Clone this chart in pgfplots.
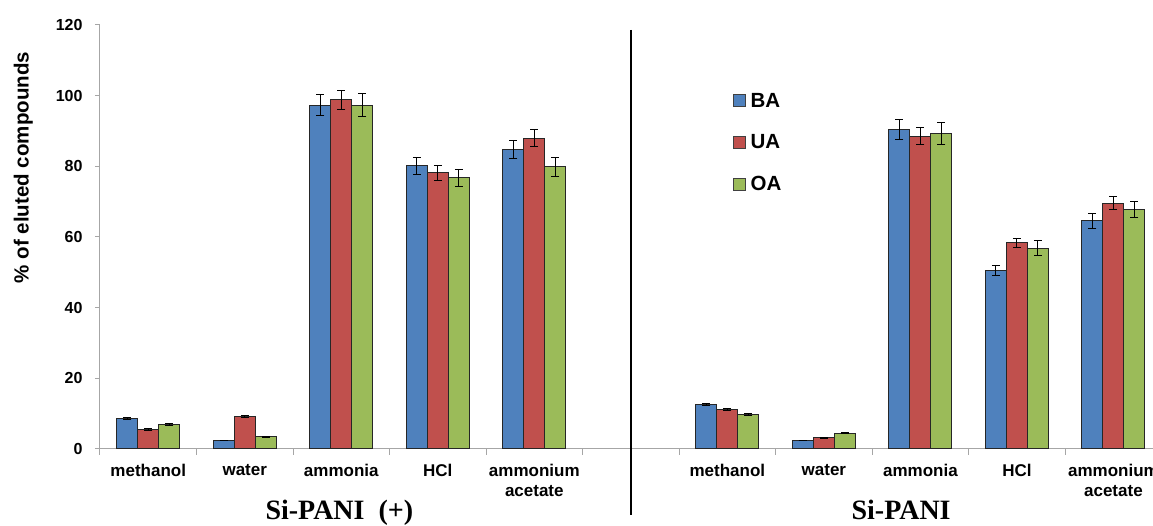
\documentclass[border=0pt]{standalone}
\usepackage{pgfplots}
\pgfplotsset{compat=1.18}
\usepackage{pgfplotstable}
\usepackage{fontspec}
\setmainfont{Liberation Sans}
\newfontfamily\timesfont{Liberation Serif}
\definecolor{cBA}{HTML}{4F81BD}
\definecolor{cUA}{HTML}{C0504D}
\definecolor{cOA}{HTML}{9BBB59}
\definecolor{axgray}{HTML}{A6A6A6}

\pgfplotstableread{
x y e
0 8.7 0.3
1 2.3 0.0
2 97.3 3.0
3 80.1 2.4
4 84.8 2.5
6 12.6 0.3
7 2.4 0.0
8 90.4 2.8
9 50.5 1.4
10 64.6 2.1
}\tBA
\pgfplotstableread{
x y e
0 5.5 0.2
1 9.3 0.3
2 98.8 2.7
3 78.2 2.1
4 87.9 2.4
6 11.3 0.3
7 3.2 0.1
8 88.5 2.4
9 58.4 1.3
10 69.6 1.8
}\tUA
\pgfplotstableread{
x y e
0 6.9 0.2
1 3.4 0.2
2 97.3 3.3
3 76.7 2.5
4 79.9 2.7
6 9.8 0.3
7 4.5 0.1
8 89.2 3.1
9 56.8 2.1
10 67.7 2.3
}\tOA

\begin{document}
\begin{tikzpicture}
\begin{axis}[
  at={(0,0)}, anchor=south west,
  scale only axis, width=1053pt, height=424pt,
  xmin=-0.5, xmax=10.41, ymin=0, ymax=120,
  clip=false,
  ybar=0pt, bar width=21pt,
  axis x line*=bottom, axis y line*=left,
  axis line style={axgray, line width=1pt, -},
  ytick={0,20,...,120},
  xtick={0,1,2,3,4,6,7,8,9,10},
  xticklabels={methanol,water,ammonia,HCl,{ammonium\\acetate},methanol,water,ammonia,HCl,{ammonium\\acetate}},
  minor xtick={-0.5,0.5,...,9.5},
  tick align=outside,
  major tick length=5pt, minor tick length=6pt,
  major x tick style={draw=none},
  ytick style={axgray, line width=1pt},
  minor x tick style={axgray, line width=1pt},
  /pgf/number format/assume math mode=true,
  yticklabel style={font=\fontsize{16}{16}\selectfont\bfseries, xshift=-9pt},
  xticklabel style={font=\fontsize{17}{19.5}\selectfont\bfseries, align=center, yshift=-7pt},
  ylabel={\% of eluted compounds},
  ylabel style={at={(axis description cs:-0.0728,0.664)}, anchor=center, font=\fontsize{20.5}{20.5}\selectfont\bfseries},
  legend style={at={(axis description cs:0.601,0.840)}, anchor=north west, draw=none, fill=none, inner sep=0pt,
    font=\fontsize{20.5}{20.5}\selectfont\bfseries, row sep=26pt, column sep=0pt,
    nodes={inner sep=0pt}},
  legend cell align=left,
  legend image code/.code={\draw[#1, draw=black!75, line width=1pt] (0pt,-6pt) rectangle (12pt,6pt);
    \path[draw=none, fill=none] (17pt,0pt);},
  error bars/error bar style={black, line width=1pt},
  error bars/error mark options={black, line width=1pt, mark size=4pt, rotate=90},
]
\addplot[fill=cBA, draw=black!85, line width=1pt,
  error bars/.cd, y dir=both, y explicit] table[x=x, y=y, y error=e] {\tBA};
\addplot[fill=cUA, draw=black!85, line width=1pt,
  error bars/.cd, y dir=both, y explicit] table[x=x, y=y, y error=e] {\tUA};
\addplot[fill=cOA, draw=black!85, line width=1pt,
  error bars/.cd, y dir=both, y explicit] table[x=x, y=y, y error=e] {\tOA};
\legend{BA,UA,OA}
\draw[black, line width=2.6pt] (axis cs:5,118.6) -- (axis cs:5,-18.7);
\node[font={\timesfont\fontsize{28}{28}\selectfont\bfseries}, anchor=base] at (axis cs:1.98,-20.0) {Si-PANI\ \ (+)};
\node[font={\timesfont\fontsize{28}{28}\selectfont\bfseries}, anchor=base] at (axis cs:7.80,-20.0) {Si-PANI};
\end{axis}
\pgfresetboundingbox
\useasboundingbox (-100pt,-77pt) rectangle (1053pt,449pt);
\end{tikzpicture}
\end{document}
